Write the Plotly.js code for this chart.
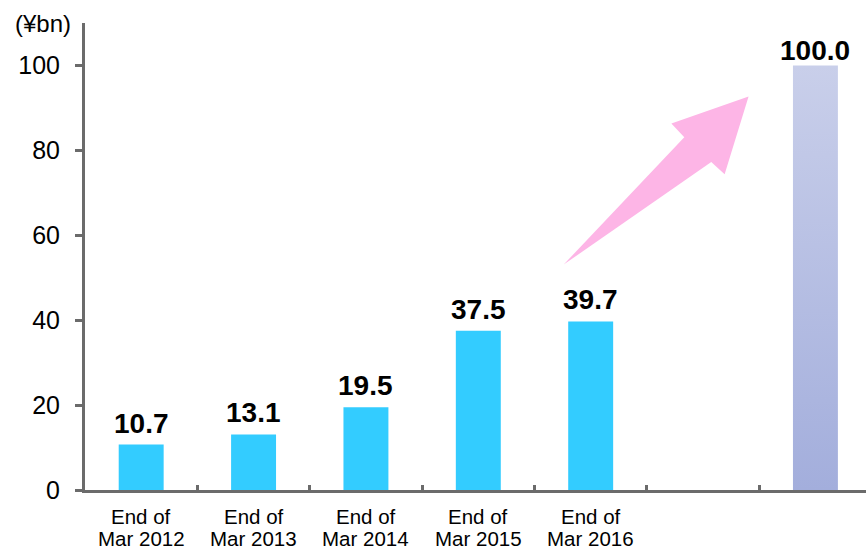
<!DOCTYPE html>
<html><head><meta charset="utf-8">
<script src="https://cdn.plot.ly/plotly-3.0.1.min.js"></script>
<style>html,body{margin:0;padding:0;background:#fff}#chart{width:866px;height:550px}</style>
</head><body><div id="chart"></div>
<script>
// ---- data ----
const categories = ['End of<br>Mar 2012','End of<br>Mar 2013','End of<br>Mar 2014','End of<br>Mar 2015','End of<br>Mar 2016','',''];
const actualValues = [10.7, 13.1, 19.5, 37.5, 39.7];
const targetValue = 100.0;
const targetIndex = 6;
const yTickValues = [0, 20, 40, 60, 80, 100];
const unitLabel = '(¥bn)';

// ---- style ----
const FONT = 'Liberation Sans, Arial, sans-serif';
const AXIS = '#6b6b6b';
const BAR_W = 0.4;

const actualX = actualValues.map((v, i) => i);

const traces = [
  {
    type: 'bar', x: actualX, y: actualValues, width: BAR_W,
    marker: {color: '#33CCFF', line: {width: 0}},
    hoverinfo: 'skip', showlegend: false
  },
  {
    type: 'scatter', mode: 'none',
    x: [targetIndex - BAR_W/2, targetIndex + BAR_W/2, targetIndex + BAR_W/2, targetIndex - BAR_W/2, targetIndex - BAR_W/2],
    y: [0, 0, targetValue, targetValue, 0],
    fill: 'toself',
    fillgradient: {type: 'vertical', colorscale: [[0, '#A3AEDC'], [1, '#C9CFEA']]},
    hoverinfo: 'skip', showlegend: false
  }
];

const annotations = actualValues.map((v, i) => ({
  x: i, y: v, xref: 'x', yref: 'y', text: v.toFixed(1), showarrow: false,
  yanchor: 'bottom', yshift: 4,
  font: {family: FONT, size: 28, color: '#000', weight: 'bold'}
}));
annotations.push({
  x: targetIndex, y: targetValue, xref: 'x', yref: 'y', text: targetValue.toFixed(1), showarrow: false,
  yanchor: 'bottom', yshift: -3,
  font: {family: FONT, size: 28, color: '#000', weight: 'bold'}
});
annotations.push({
  x: 0, y: 1, xref: 'paper', yref: 'paper', text: unitLabel, showarrow: false,
  xanchor: 'right', yanchor: 'middle', xshift: -12, yshift: 0,
  font: {family: FONT, size: 24, color: '#000'}
});
// category labels, one annotation per line for tight line spacing
categories.forEach((c, i) => {
  if (!c) return;
  c.split('<br>').forEach((line, k) => {
    annotations.push({
      x: i, y: 0, xref: 'x', yref: 'paper', text: line, showarrow: false,
      xanchor: 'center', yanchor: 'middle', yshift: -26 - 22.5 * k, borderpad: 0,
      font: {family: FONT, size: 20.5, color: '#000'}
    });
  });
});

const boundaries = categories.slice(0, -1).map((c, i) => i + 0.5);

const layout = {
  width: 866, height: 550,
  margin: {l: 85, r: 0, t: 23, b: 60},
  paper_bgcolor: '#fff', plot_bgcolor: '#fff',
  font: {family: FONT, color: '#000'},
  xaxis: {
    range: [-0.5, 6.45], showticklabels: false,
    ticks: '', showline: true, linewidth: 3, linecolor: AXIS, showgrid: false, zeroline: false,
    minor: {tickmode: 'array', tickvals: boundaries, ticks: 'inside', ticklen: 5, tickwidth: 3, tickcolor: AXIS, showgrid: false}
  },
  yaxis: {
    range: [0, 110], tickmode: 'array', tickvals: yTickValues,
    ticks: 'outside', ticklen: 7, tickwidth: 3, tickcolor: AXIS,
    showline: true, linewidth: 3, linecolor: AXIS, showgrid: false, zeroline: false,
    tickfont: {family: FONT, size: 25, color: '#000'}, ticklabelstandoff: 10
  },
  bargap: 0.6,
  annotations: annotations,
  shapes: [{
    type: 'path', xref: 'x', yref: 'y', layer: 'above',
    path: 'M 3.760 53.1 L 4.833 83.1 L 4.718 86.3 L 5.405 92.7 L 5.192 74.35 L 5.073 77.25 Z',
    fillcolor: '#FDB5E6', line: {width: 0}
  }]
};

Plotly.newPlot('chart', traces, layout, {staticPlot: true, displayModeBar: false});
</script></body></html>
